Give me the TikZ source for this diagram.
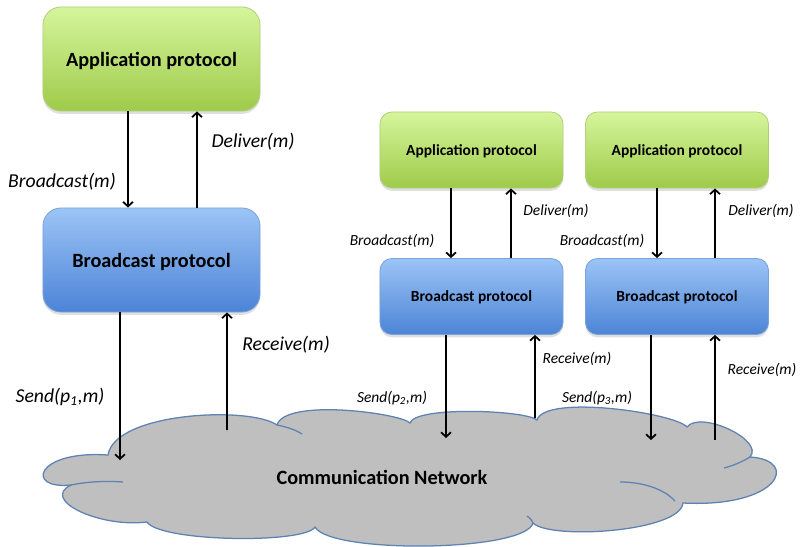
\documentclass[tikz,border=0pt]{standalone}
\usepackage{fontspec}
\setmainfont{Carlito}
\usetikzlibrary{arrows.meta,calc,shadows}
\definecolor{gtop}{HTML}{D6F59C}
\definecolor{gbot}{HTML}{9ECB4A}
\definecolor{gline}{HTML}{B2CF7C}
\definecolor{btop}{HTML}{9CC4F6}
\definecolor{bbot}{HTML}{4C84D6}
\definecolor{bline}{HTML}{7AA2DA}
\definecolor{cfill}{HTML}{BFBFBF}
\definecolor{cline}{HTML}{5E82B2}
\begin{document}
\begin{tikzpicture}[x=0.025cm,y=0.025cm,
  bigfont/.style={font=\bfseries\fontsize{14.4}{16}\selectfont},
  smallfont/.style={font=\bfseries\fontsize{11}{13}\selectfont},
  appbox/.style={draw=gline, line width=0.6pt, top color=gtop, bottom color=gbot,
     drop shadow={opacity=0.25, shadow xshift=0pt, shadow yshift=-2pt}},
  bcbox/.style={draw=bline, line width=0.6pt, top color=btop, bottom color=bbot,
     drop shadow={opacity=0.25, shadow xshift=0pt, shadow yshift=-2pt}},
  bigbox/.style={rounded corners=0.45cm, minimum width=5.425cm, minimum height=2.6cm, text depth=0pt, bigfont},
  smallbox/.style={rounded corners=0.3cm, minimum width=4.575cm, minimum height=1.9cm, text depth=0pt, smallfont},
  arr/.style={-{Straight Barb[length=3.2pt,width=7pt]}, line width=1.25pt},
  biglab/.style={font=\itshape\fontsize{14}{16}\selectfont, inner sep=0pt},
  smalllab/.style={font=\itshape\fontsize{11}{13}\selectfont, inner sep=0pt},
  cloudsty/.style={fill=cfill, draw=cline, line width=0.9pt},
  cloudline/.style={draw=cline, line width=0.9pt}
]
\useasboundingbox (0,0) rectangle (800,-546);

% cloud
\path[cloudsty] (108,-455)
  .. controls (115,-412) and (250,-406) .. (277,-425)
  .. controls (285,-398) and (400,-413) .. (410,-423)
  .. controls (415,-406) and (525,-410) .. (537,-420)
  .. controls (545,-394) and (675,-413) .. (687,-427)
  .. controls (700,-410) and (765,-440) .. (750,-457)
  .. controls (800,-460) and (780,-508) .. (683,-503)
  .. controls (680,-532) and (550,-540) .. (533,-523)
  .. controls (525,-552) and (330,-554) .. (315,-527)
  .. controls (305,-544) and (160,-542) .. (147,-522)
  .. controls (100,-528) and (40,-500) .. (71,-485)
  .. controls (25,-490) and (35,-450) .. (108,-455) -- cycle;
\draw[cloudline] (71,-485) .. controls (90,-481) and (110,-481) .. (123,-482);
\draw[cloudline] (277,-425) .. controls (287,-427) and (296,-430) .. (302,-434);
\draw[cloudline] (750,-457) .. controls (742,-462) and (732,-466) .. (724,-468);
\draw[cloudline] (620,-482) .. controls (645,-482) and (665,-490) .. (675,-501);
\draw[cloudline] (533,-523) .. controls (531,-519) and (529,-517) .. (527,-516);
\node[bigfont] (net) at (382,-477) {Communication Network};

% boxes
\node[appbox,bigbox] (ap1) at (151.5,-59) {Application protocol};
\node[bcbox,bigbox] (bp1) at (151.5,-260) {Broadcast protocol};
\node[appbox,smallbox] (ap2) at (471.5,-150) {Application protocol};
\node[bcbox,smallbox] (bp2) at (471.5,-296.5) {Broadcast protocol};
\node[appbox,smallbox] (ap3) at (677,-150) {Application protocol};
\node[bcbox,smallbox] (bp3) at (677,-296.5) {Broadcast protocol};

% free ends in the network
\coordinate (s1) at (120,-460);
\coordinate (r1) at (227,-430);
\coordinate (s2) at (446,-438);
\coordinate (r2) at (535,-418);
\coordinate (s3) at (651,-440);
\coordinate (r3) at (715,-440);

% connectors, big stack
\draw[arr] ($(ap1.south)+(-23.5,0)$) -- ($(bp1.north)+(-23.5,0)$);
\draw[arr] ($(bp1.north)+(45.5,0)$) -- ($(ap1.south)+(45.5,0)$);
\draw[arr] ($(bp1.south)+(-31.5,0)$) -- (s1);
\draw[arr] (r1) -- ($(bp1.south)+(75.5,0)$);
% stack 2
\draw[arr] ($(ap2.south)+(-20.5,0)$) -- ($(bp2.north)+(-20.5,0)$);
\draw[arr] ($(bp2.north)+(39.5,0)$) -- ($(ap2.south)+(39.5,0)$);
\draw[arr] ($(bp2.south)+(-25.5,0)$) -- (s2);
\draw[arr] (r2) -- ($(bp2.south)+(63.5,0)$);
% stack 3
\draw[arr] ($(ap3.south)+(-20,0)$) -- ($(bp3.north)+(-20,0)$);
\draw[arr] ($(bp3.north)+(38,0)$) -- ($(ap3.south)+(38,0)$);
\draw[arr] ($(bp3.south)+(-26,0)$) -- (s3);
\draw[arr] (r3) -- ($(bp3.south)+(38,0)$);

% labels
\node[biglab] (lb1) at (62,-182) {Broadcast(m)};
\node[biglab] (ld1) at (253,-142) {Deliver(m)};
\node[biglab] (ls1) at (60,-397) {Send(p\textsubscript{1},m)};
\node[biglab] (lr1) at (286,-345) {Receive(m)};
\node[smalllab] (lb2) at (392,-241) {Broadcast(m)};
\node[smalllab] (ld2) at (556,-211) {Deliver(m)};
\node[smalllab] (ls2) at (392,-398) {Send(p\textsubscript{2},m)};
\node[smalllab] (lr2) at (577,-359) {Receive(m)};
\node[smalllab] (lb3) at (602,-241) {Broadcast(m)};
\node[smalllab] (ld3) at (761,-211) {Deliver(m)};
\node[smalllab] (ls3) at (597,-398) {Send(p\textsubscript{3},m)};
\node[smalllab] (lr3) at (762,-370) {Receive(m)};
\end{tikzpicture}
\end{document}
